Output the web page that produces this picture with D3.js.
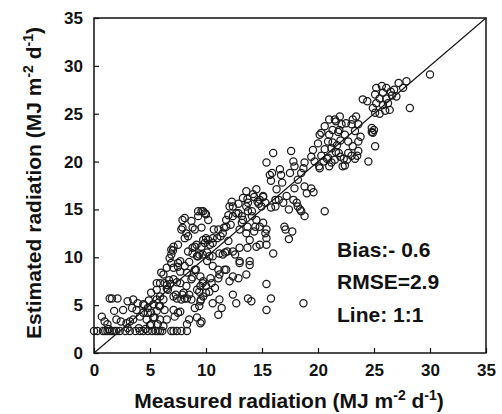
<!DOCTYPE html>
<html>
<head>
<meta charset="utf-8">
<script src="https://cdn.jsdelivr.net/npm/d3@7"></script>
<style>
  body { margin: 0; background: #fff; }
  svg { display: block; }
  text { font-family: "Liberation Sans", Arial, sans-serif; font-weight: bold; fill: #111; }
</style>
</head>
<body>
<div id="chart"></div>
<script>
// ── Data: [measured, estimated] (MJ m-2 d-1) ──
const lowPoints = [
  [0.0,2.3],[0.3,2.3],[0.8,2.3],[1.0,2.3],[1.2,2.3],[1.4,2.3],[1.6,2.3],[1.8,2.3],[2.0,2.3],[2.3,2.3],
  [2.8,2.3],[3.2,2.3],[3.7,2.3],[4.1,2.3],[4.4,2.3],[4.8,2.3],[5.2,2.3],[5.5,2.3],[5.7,2.3],[5.9,2.3],
  [6.1,2.3],[6.9,2.3],[7.1,2.3],[7.4,2.3],[7.8,2.3],[8.3,2.3],
  [1.3,2.5],[3.0,2.6],[4.0,2.6],[4.6,2.5],
  [0.7,3.8],[0.95,3.3],[1.2,3.0],[1.4,5.7],[1.6,5.7],[2.1,5.7],[1.8,4.4],[2.0,3.5],[2.4,3.3],[2.6,4.5],
  [2.9,3.1],[3.0,5.4],[3.2,3.3],[3.5,5.6],[3.4,4.7],[3.5,3.5],[3.8,4.5],[3.9,5.2],[4.1,3.8],[4.4,4.2],
  [4.4,5.1],[4.5,5.0],[4.7,3.5],[4.8,4.7],[4.8,4.2],[4.9,5.5],[5.1,4.2],[5.1,3.0],[5.1,6.3],[5.3,5.1],
  [5.3,3.7],[5.4,3.7],[5.6,5.6],[5.6,4.4],[5.6,6.6],[5.7,3.0],[5.8,4.9],[5.9,5.9],[5.9,4.9],[5.9,3.5],
  [6.2,5.6],[6.2,2.8],[6.3,4.5],[6.5,3.5],[5.0,2.9]
];
const risePoints = [
  [5.6,7.3],[5.9,7.3],[6.0,8.4],[6.2,8.2],[6.3,7.3],[6.5,8.9],[6.5,7.1],[6.6,6.6],[6.5,6.7],[6.7,7.6],
  [6.8,7.2],[6.75,9.9],[6.9,10.3],[6.9,10.8],[6.9,9.4],[7.05,10.7],[7.1,11.1],[7.1,8.9],[7.1,7.7],[7.1,5.9],
  [7.3,6.1],[7.4,7.4],[7.4,5.7],[7.5,9.4],[7.5,9.0],[7.5,11.3],[7.7,8.5],[7.7,9.6],[7.7,7.3],[7.7,4.3],
  [7.9,6.1],[8.0,6.3],[8.1,9.1],[8.1,5.7],[8.25,7.0],[8.3,8.4],[8.3,5.7],[8.4,10.6],[8.5,9.5],[8.5,6.1],
  [8.5,3.5],[8.3,3.0],[8.7,7.7],[8.7,5.6],[8.8,10.4],[8.8,7.9],[8.8,11.0],[9.0,8.7],[9.1,8.7],[9.2,6.6],
  [9.2,10.1],[9.2,3.7],[9.0,4.7],[9.15,11.3],[9.3,10.1],[9.5,3.1],[9.5,8.0],[9.5,7.0],[9.5,5.4],[7.2,3.8],
  [7.5,4.2],[7.1,4.5],[7.8,5.6]
];
const bumpPoints = [
  [7.8,12.9],[7.9,13.1],[7.9,13.9],[8.1,14.1],[8.1,12.0],[8.25,12.5],[8.4,12.2],[8.7,13.8],[8.8,13.1],[9.0,12.9],
  [9.0,11.1],[9.3,14.8],[9.3,14.3],[9.6,14.8],[9.75,14.8],[9.9,14.6],[10.0,14.5],[10.2,13.9],[9.6,13.1],[9.6,11.1],
  [9.75,11.8],[9.9,11.5],[10.0,12.0],[10.2,11.8],[10.35,11.3],[10.1,10.5],[10.6,12.0],[10.6,11.5],[10.7,12.9],[11.0,12.0],
  [11.1,12.9],[11.3,12.2],[11.5,12.5],[11.6,13.1],[11.8,13.9],[12.0,14.4],[12.2,13.4],[12.1,15.3],[12.3,15.8],[12.4,15.3],
  [12.7,14.6],[12.0,11.7],[11.8,13.2],[12.4,14.3],[11.2,10.4],[11.5,10.3],[11.7,10.5],[11.9,10.6],[12.6,10.3],[12.4,10.6],
  [13.0,11.0],[13.7,11.0],[14.8,11.3],[10.6,10.1],[9.7,10.3],[10.1,9.6],[9.4,10.3],[10.3,10.1]
];
const spreadPoints = [
  [9.7,7.3],[9.4,6.4],[9.55,5.6],[9.4,4.9],[9.6,3.3],[9.75,5.9],[10.0,6.3],[10.0,7.0],[9.75,7.5],[10.3,6.4],
  [10.4,7.8],[10.5,7.3],[10.6,9.1],[10.8,6.8],[10.6,5.2],[11.1,7.8],[11.2,8.2],[11.65,8.7],[11.2,5.6],[11.4,4.7],
  [11.1,4.0],[11.1,8.7],[11.8,8.7],[12.1,7.5],[12.4,8.0],[12.4,6.1],[12.7,5.2],[12.9,7.8],[13.0,9.4],[13.0,9.6],
  [13.6,8.2],[13.75,5.7],[13.9,9.6],[13.9,9.2],[14.05,5.4],[14.5,11.1],[15.4,7.2],[15.8,5.7],[15.4,4.5],[16.0,10.4],
  [18.7,5.2]
];
const midPoints = [
  [12.9,14.6],[12.9,15.6],[13.2,13.6],[13.6,15.3],[13.7,16.1],[13.7,13.2],[14.1,14.8],[14.3,16.3],[14.3,12.7],[14.7,15.6],
  [14.8,13.2],[15.1,16.3],[15.4,12.9],[15.4,11.3],[15.3,12.5],[15.4,12.0],[13.3,13.9],[13.6,12.5],[13.9,11.8],[13.0,12.9],
  [13.2,14.3],[13.3,16.2],[13.6,16.9],[13.75,15.7],[13.75,14.8],[14.2,16.6],[14.4,13.2],[14.5,17.1],[14.5,13.9],[14.6,15.8],
  [14.95,15.3],[15.1,13.6],[15.3,15.7],[15.4,19.9],[15.7,18.6],[15.8,18.0],[15.8,15.2],[16.0,20.9],[16.2,16.0],[16.3,17.1],
  [16.6,19.2],[16.7,18.6],[16.8,17.8],[16.9,15.7],[17.0,13.2],[17.2,16.4],[17.4,15.0],[17.6,21.1],[17.8,20.0],[17.8,16.0],
  [17.9,19.5],[17.9,17.2],[18.2,18.1],[18.2,15.3],[18.5,18.8],[18.5,14.8],[18.8,17.4],[18.8,14.3],[19.4,17.2],[19.4,20.5],
  [19.55,21.2],[19.6,16.8],[19.7,20.0],[20.0,21.9],[20.15,22.8],[20.15,19.3],[20.6,14.8],[17.1,12.9],[17.7,12.7],[17.4,11.9],
  [16.5,16.0],[16.2,15.3],[17.5,18.8],[18.7,19.3],[15.1,16.4],[14.8,16.0],[15.9,18.8],[18.1,15.7],[18.4,15.0],[19.0,16.7],
  [18.8,19.9],[14.1,14.3]
];
const highPoints = [
  [30.0,29.1],[28.2,25.6],[27.9,28.4],[27.2,28.2],[27.6,27.7],[26.8,27.5],[25.7,27.9],[25.2,27.7],[26.1,27.7],[25.8,27.2],
  [25.1,27.0],[25.5,26.6],[26.1,26.6],[26.25,26.1],[25.8,25.9],[26.4,25.4],[25.2,26.1],[24.9,25.6],[24.4,26.3],[24.0,26.5],
  [25.1,25.1],[25.5,25.0],[27.0,26.8],[26.6,26.9],[26.0,25.3],[26.5,27.3],
  [24.8,23.5],[24.8,23.1],[24.9,23.0],[25.0,23.3],[25.1,21.6],[24.5,20.0],[23.1,24.4],[23.4,24.7],[23.0,23.9],[23.6,23.9],
  [23.3,23.2],[23.6,22.1],[23.1,21.6],[22.7,22.1],[22.4,22.8],[22.1,23.9],[21.95,24.7],[21.5,24.4],[21.0,24.4],[21.3,23.3],
  [21.8,23.1],[20.6,23.7],[20.3,23.0],[20.9,22.1],[21.2,21.4],[20.6,21.3],[21.7,21.7],[21.85,20.9],[21.5,20.2],[20.8,20.3],
  [20.3,20.6],[22.3,20.3],[22.4,19.6],[22.7,20.9],[23.0,20.6],[23.3,20.3],[23.6,21.1],[21.0,19.5],[20.1,19.5],[20.5,20.0],
  [23.8,22.6],[23.5,20.6],[22.0,22.2],[20.9,20.4],[21.2,19.9],[21.6,21.0],[21.9,23.3],[22.0,20.5],[22.2,19.5],[22.5,24.0],
  [22.6,20.2],[21.6,24.2],[21.3,22.0],[21.0,22.8]
];
const points = [].concat(lowPoints, risePoints, bumpPoints, spreadPoints, midPoints, highPoints);

const xTicks = [0, 5, 10, 15, 20, 25, 30, 35];
const yTicks = [0, 5, 10, 15, 20, 25, 30, 35];
const stats = ["Bias:- 0.6", "RMSE=2.9", "Line: 1:1"];

// ── Layout ──
const W = 502, H = 414;
const M = { t: 18, r: 16, b: 61, l: 94 };

const svg = d3.select("#chart").append("svg")
  .attr("width", W).attr("height", H);

const x = d3.scaleLinear().domain([0, 35]).range([M.l, W - M.r]);
const y = d3.scaleLinear().domain([0, 35]).range([H - M.b, M.t]);

// ── Axes (ticks point inward) ──
const xAxis = svg.append("g")
  .attr("transform", `translate(0,${H - M.b})`)
  .call(d3.axisBottom(x).tickValues(xTicks).tickSizeInner(-5).tickSizeOuter(0).tickPadding(11));
const yAxis = svg.append("g")
  .attr("transform", `translate(${M.l},0)`)
  .call(d3.axisLeft(y).tickValues(yTicks).tickSizeInner(-5).tickSizeOuter(0).tickPadding(11));

[xAxis, yAxis].forEach((a) => {
  a.select(".domain").remove();
  a.selectAll("line").attr("stroke", "#111").attr("stroke-width", 1.2);
  a.selectAll("text").style("font-size", "17px").attr("fill", "#111");
});

// frame
svg.append("rect")
  .attr("x", x(0)).attr("y", y(35))
  .attr("width", x(35) - x(0)).attr("height", y(0) - y(35))
  .attr("fill", "none").attr("stroke", "#111").attr("stroke-width", 1.5);

// 1:1 line
svg.append("line")
  .attr("x1", x(0)).attr("y1", y(0))
  .attr("x2", x(35)).attr("y2", y(35))
  .attr("stroke", "#111").attr("stroke-width", 1.1);

// ── Points ──
svg.append("g").selectAll("circle")
  .data(points)
  .enter().append("circle")
  .attr("cx", (d) => x(d[0]))
  .attr("cy", (d) => y(d[1]))
  .attr("r", 3.6)
  .attr("fill", "none")
  .attr("stroke", "#1a1a1a")
  .attr("stroke-width", 1.25);

// ── Stats text ──
svg.append("g").selectAll("text")
  .data(stats)
  .enter().append("text")
  .attr("x", 337)
  .attr("y", (d, i) => [257, 289, 322][i])
  .style("font-size", "21px")
  .text((d) => d);

// ── Axis titles ──
function unitTitle(sel, label) {
  sel.append("tspan").text(label + " (MJ m");
  sel.append("tspan").attr("dy", -8).style("font-size", "14px").text("-2");
  sel.append("tspan").attr("dy", 8).text(" d");
  sel.append("tspan").attr("dy", -8).style("font-size", "14px").text("-1");
  sel.append("tspan").attr("dy", 8).text(")");
}

svg.append("text")
  .attr("x", 289).attr("y", 408)
  .attr("text-anchor", "middle")
  .style("font-size", "21px")
  .call(unitTitle, "Measured radiation");

svg.append("text")
  .attr("transform", "translate(41,183) rotate(-90)")
  .attr("text-anchor", "middle")
  .style("font-size", "21px")
  .call(unitTitle, "Estimated radiation");
</script>
</body>
</html>
